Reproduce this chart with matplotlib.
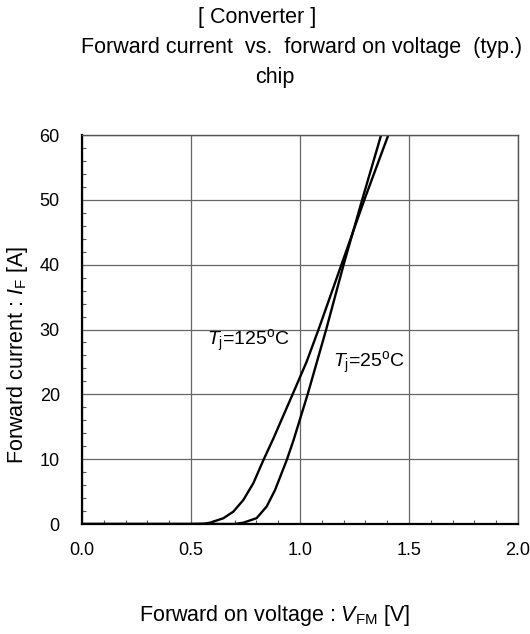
import numpy as np
import matplotlib
matplotlib.use("Agg")
import matplotlib.pyplot as plt
from matplotlib.ticker import MultipleLocator

plt.rcParams['font.family'] = ['Liberation Sans', 'DejaVu Sans']
plt.rcParams['mathtext.fontset'] = 'custom'
plt.rcParams['mathtext.rm'] = 'Liberation Sans'
plt.rcParams['mathtext.it'] = 'Liberation Sans:italic'

# forward characteristic, Tj = 125 C
v_125 = [0.0, 0.50, 0.56, 0.587, 0.648, 0.694, 0.74, 0.786, 0.832, 0.878, 0.922, 0.966, 1.03,
         1.085, 1.19, 1.295, 1.405]
i_125 = [0.0, 0.0, 0.05, 0.2, 0.88, 1.9, 3.7, 6.3, 9.85, 13.2, 16.6, 20.0, 25.0,
         30.0, 40.0, 50.0, 60.0]

# forward characteristic, Tj = 25 C
v_25 = [0.0, 0.70, 0.74, 0.801, 0.847, 0.885, 0.939, 0.97, 1.035, 1.12, 1.20, 1.285, 1.372]
i_25 = [0.0, 0.0, 0.2, 0.9, 2.7, 5.2, 9.85, 12.9, 20.0, 30.0, 40.0, 50.0, 60.0]

x_ticks = [0.0, 0.5, 1.0, 1.5, 2.0]
y_ticks = [0, 10, 20, 30, 40, 50, 60]

fig = plt.figure(figsize=(5.3, 6.34), dpi=100)
ax = fig.add_axes([0.1547, 0.1735, 0.8227, 0.6135])

ax.plot(v_125, i_125, color='black', lw=1.7, solid_joinstyle='round')
ax.plot(v_25, i_25, color='black', lw=1.7, solid_joinstyle='round')

ax.set_xlim(0, 2.0)
ax.set_ylim(0, 60)
ax.set_xticks(x_ticks)
ax.set_xticklabels([f"{t:.1f}" for t in x_ticks])
ax.set_yticks(y_ticks)
ax.xaxis.set_minor_locator(MultipleLocator(0.1))
ax.yaxis.set_minor_locator(MultipleLocator(2))
ax.tick_params(which='both', direction='in', top=False, right=False)
ax.tick_params(which='major', length=0, labelsize=13)
ax.tick_params(axis='x', which='major', pad=13)
ax.tick_params(axis='y', which='major', pad=16)
ax.tick_params(which='minor', length=3, width=0.8, color='#555555')
ax.grid(True, which='major', color='#666666', lw=0.9)

for side in ['left', 'bottom']:
    ax.spines[side].set_linewidth(1.6)
    ax.spines[side].set_color('black')
for side in ['top', 'right']:
    ax.spines[side].set_linewidth(1.0)
    ax.spines[side].set_color('#555555')

ax.text(0.575, 28.3, r"$T_\mathrm{j}$=125$^\mathrm{o}$C", fontsize=14, va='center')
ax.text(1.15, 24.9, r"$T_\mathrm{j}$=25$^\mathrm{o}$C", fontsize=14, va='center')

# axis titles placed in figure coordinates
fig.text(275 / 530, 1 - 615 / 634, r"Forward on voltage : $V_\mathrm{FM}$ [V]",
         fontsize=15.5, ha='center', va='center')
fig.text(18 / 530, 1 - 355 / 634, r"Forward current : $I_\mathrm{F}$ [A]",
         fontsize=15.5, ha='center', va='center', rotation=90)

fig.text(257 / 530, 1 - 17 / 634, "[ Converter ]", fontsize=15.5, ha='center', va='center')
fig.text(302 / 530, 1 - 47 / 634, "Forward current  vs.  forward on voltage  (typ.)",
         fontsize=15.5, ha='center', va='center')
fig.text(275 / 530, 1 - 77 / 634, "chip", fontsize=15.5, ha='center', va='center')

fig.savefig("out.png", dpi=100)
